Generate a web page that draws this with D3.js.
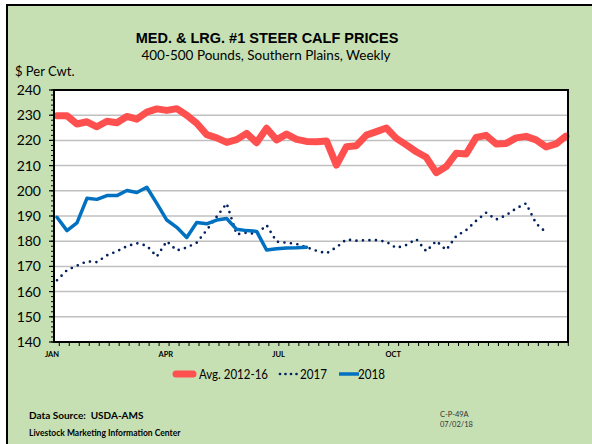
<!DOCTYPE html>
<html>
<head>
    <meta charset="utf-8">
    <title>Steer Calf Prices</title>
    <script src="https://d3js.org/d3.v7.min.js"></script>
    <style>
        body {
            margin: 0;
            background: #fff;
        }
        svg text {
            font-family: Lato, "Open Sans", sans-serif;
            fill: #000;
        }
    </style>
</head>
<body>
<div id="chart"></div>

<script>
  // Weekly prices, $ per cwt (week 1 = first week of Jan)
  const avg1216 = [229.8, 229.8, 226.5, 227.4, 225.4, 227.6, 227.0, 229.5, 228.4, 231.2,
    232.5, 231.9, 232.6, 230.0, 226.8, 222.3, 221.0, 219.2, 220.3, 222.8,
    219.1, 224.8, 220.2, 222.5, 220.4, 219.6, 219.5, 219.8, 210.2, 217.5,
    217.9, 222.1, 223.5, 224.9, 220.8, 218.2, 215.5, 213.3, 207.2, 209.6,
    214.9, 214.6, 221.2, 222.0, 218.6, 218.8, 221.0, 221.6, 220.2, 217.4,
    218.6, 221.7];
  const y2017 = [164.5, 168.5, 170.3, 172.0, 171.7, 174.4, 176.0, 178.0, 179.2, 178.2,
    173.9, 180.0, 176.3, 177.5, 179.4, 184.4, 189.7, 195.0, 182.7, 183.4,
    182.8, 186.4, 179.8, 179.4, 178.9, 177.6, 176.2, 175.2, 177.6, 180.7,
    180.2, 180.4, 180.4, 179.8, 177.3, 178.5, 180.8, 176.0, 180.1, 176.5,
    182.0, 184.4, 188.1, 191.3, 188.6, 190.3, 193.0, 195.0, 187.0, 183.5];
  const y2018 = [189.5, 184.2, 187.3, 197.0, 196.6, 198.1, 198.1, 200.1, 199.3, 201.4,
    195.0, 188.4, 185.5, 181.5, 187.4, 186.9, 188.4, 189.0, 184.7, 184.2,
    183.9, 176.5, 177.0, 177.3, 177.4, 177.6];

  const monthLabels = ["JAN", "APR", "JUL", "OCT"];
  const monthWeeks = [-0.5, 10.9, 22.2, 33.7];
  const yTicks = [140, 150, 160, 170, 180, 190, 200, 210, 220, 230, 240];

  const series = [
    {name: "Avg. 2012-16", values: avg1216, color: "#ff5050", width: 7, dash: null},
    {name: "2017", values: y2017, color: "#002060", width: 2.7, dash: "0 6.5"},
    {name: "2018", values: y2018, color: "#0070c0", width: 3.5, dash: null}
  ];

  const width = 592, height = 444;
  const plot = {left: 54, right: 568, top: 90, bottom: 342};

  const svg = d3.select("#chart").append("svg")
    .attr("width", width)
    .attr("height", height);

  // green panel with black frame (runs off the right/bottom edge)
  svg.append("rect")
    .attr("x", 7).attr("y", 5)
    .attr("width", 600).attr("height", 450)
    .attr("fill", "#c6e0b4")
    .attr("stroke", "#000")
    .attr("stroke-width", 2);

  const x = d3.scaleLinear().domain([0, 51]).range([57, 566]);
  const y = d3.scaleLinear().domain([140, 240]).range([plot.bottom, plot.top]);

  svg.append("rect")
    .attr("x", plot.left).attr("y", plot.top)
    .attr("width", plot.right - plot.left).attr("height", plot.bottom - plot.top)
    .attr("fill", "#fff");

  // gridlines
  svg.append("g")
    .selectAll("line")
    .data(yTicks.slice(1, -1))
    .join("line")
    .attr("x1", plot.left).attr("x2", plot.right)
    .attr("y1", d => y(d)).attr("y2", d => y(d))
    .attr("stroke", "#c0c0c0")
    .attr("stroke-width", 1.5);

  // lines
  const line = d3.line()
    .x((d, i) => x(i))
    .y(d => y(d));

  svg.append("g")
    .selectAll("path")
    .data(series)
    .join("path")
    .attr("d", d => line(d.values))
    .attr("fill", "none")
    .attr("stroke", d => d.color)
    .attr("stroke-width", d => d.width)
    .attr("stroke-linejoin", "round")
    .attr("stroke-linecap", "round")
    .attr("stroke-dasharray", d => d.dash);

  // plot border
  svg.append("rect")
    .attr("x", plot.left).attr("y", plot.top)
    .attr("width", plot.right - plot.left).attr("height", plot.bottom - plot.top)
    .attr("fill", "none")
    .attr("stroke", "#000")
    .attr("stroke-width", 2);

  // y axis: major every 10, minor every 2
  const yAxis = svg.append("g");
  yAxis.selectAll("line.minor")
    .data(d3.range(140, 241, 2))
    .join("line")
    .attr("x1", plot.left - 3).attr("x2", plot.left)
    .attr("y1", d => y(d)).attr("y2", d => y(d))
    .attr("stroke", "#000")
    .attr("stroke-width", 1);
  yAxis.selectAll("line.major")
    .data(yTicks)
    .join("line")
    .attr("x1", plot.left - 5).attr("x2", plot.left)
    .attr("y1", d => y(d)).attr("y2", d => y(d))
    .attr("stroke", "#000")
    .attr("stroke-width", 1.2);
  yAxis.selectAll("text")
    .data(yTicks)
    .join("text")
    .attr("x", 41)
    .attr("y", d => y(d) + 5)
    .attr("text-anchor", "end")
    .attr("font-size", 14)
    .text(d => d);

  // x axis: weekly ticks
  const xAxis = svg.append("g");
  xAxis.selectAll("line")
    .data(d3.range(0, 52))
    .join("line")
    .attr("x1", d => x(d) + 2.3).attr("x2", d => x(d) + 2.3)
    .attr("y1", plot.bottom).attr("y2", plot.bottom + 4)
    .attr("stroke", "#000")
    .attr("stroke-width", 1);
  xAxis.selectAll("text")
    .data(monthLabels)
    .join("text")
    .attr("x", (d, i) => x(monthWeeks[i]))
    .attr("y", 357)
    .attr("text-anchor", "middle")
    .attr("font-size", 7.5)
    .attr("font-weight", "bold")
    .text(d => d);

  // titles
  svg.append("text")
    .attr("x", 267).attr("y", 43)
    .attr("text-anchor", "middle")
    .attr("font-size", 14.5)
    .attr("font-weight", "bold")
    .style("font-family", "'Liberation Sans', Arial, sans-serif")
    .text("MED. & LRG. #1 STEER CALF PRICES");
  svg.append("text")
    .attr("x", 266).attr("y", 60)
    .attr("text-anchor", "middle")
    .attr("font-size", 13.5)
    .text("400-500 Pounds, Southern Plains, Weekly");
  svg.append("text")
    .attr("x", 15).attr("y", 76)
    .attr("font-size", 13)
    .text("$ Per Cwt.");

  // legend
  const legendX = [173, 279, 338];
  const legendTextX = [199, 300, 358];
  const legend = svg.append("g")
    .selectAll("g")
    .data(series)
    .join("g")
    .attr("transform", (d, i) => `translate(${legendX[i]},374)`);
  legend.append("line")
    .attr("x1", d => d.width > 5 ? 3 : 1).attr("x2", d => d.width > 5 ? 20 : 21)
    .attr("stroke", d => d.color)
    .attr("stroke-width", d => d.width)
    .attr("stroke-linecap", d => d.dash ? "round" : (d.width > 5 ? "round" : "butt"))
    .attr("stroke-dasharray", d => d.dash ? "0 5.5" : null);
  legend.append("text")
    .attr("x", (d, i) => legendTextX[i] - legendX[i])
    .attr("y", 5)
    .attr("font-size", 13)
    .attr("textLength", (d, i) => [69, 27, 27][i])
    .attr("lengthAdjust", "spacingAndGlyphs")
    .text(d => d.name);

  // footer
  svg.append("text")
    .attr("x", 29).attr("y", 419)
    .attr("font-size", 10)
    .attr("font-weight", "bold")
    .style("white-space", "pre")
    .text("Data Source:  USDA-AMS");
  svg.append("text")
    .attr("x", 29).attr("y", 436)
    .attr("font-size", 8.5)
    .attr("font-weight", "bold")
    .text("Livestock Marketing Information Center");
  svg.append("text")
    .attr("x", 440).attr("y", 417)
    .attr("font-size", 7.5)
    .style("fill", "#333")
    .text("C-P-49A");
  svg.append("text")
    .attr("x", 440).attr("y", 427)
    .attr("font-size", 7.5)
    .style("fill", "#333")
    .text("07/02/18");
</script>
</body>
</html>
